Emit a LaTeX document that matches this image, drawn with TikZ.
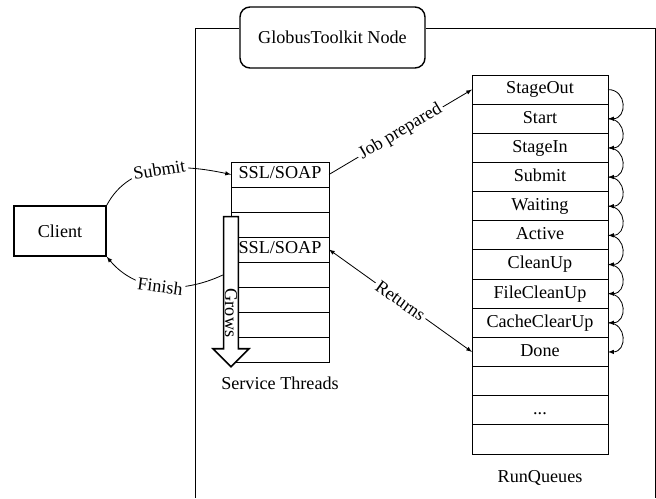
\documentclass[tikz,border=0pt]{standalone}
\usepackage{fontspec}
\setmainfont{Liberation Serif}
\usetikzlibrary{shapes.arrows}
\newcommand\qdots{...}

\begin{document}
\begin{tikzpicture}[x=0.03cm, y=0.03cm,
    every node/.style={font=\fontsize{15.5}{18}\selectfont},
    row/.style={draw, line width=0.7pt, inner sep=0pt, outer sep=0pt, text height=11pt, text depth=3.5pt},
    trow/.style={row, minimum width=2.94cm, minimum height=0.75cm},
    qrow/.style={row, minimum width=4.08cm, minimum height=0.8745cm},
    box/.style={draw, line width=1.2pt, inner sep=0pt},
    lbl/.style={fill=white, sloped, inner sep=2pt},
    conn/.style={line width=0.7pt}]

  \useasboundingbox (0,0) rectangle (656,498);

  % GlobusToolkit node frame
  \node[box, rounded corners=0.3cm, minimum width=5.55cm, minimum height=1.83cm] (globus) at (332.5,460.5) {GlobusToolkit Node};
  \coordinate (frTL) at (195,470);
  \coordinate (frTR) at (655,470);
  \coordinate (frBL) at (195,0);
  \coordinate (frBR) at (655,0);
  \draw[conn] (globus.west |- frTL) -- (frTL) -- (frBL);
  \draw[conn] (globus.east |- frTR) -- (frTR) -- (frBR);

  % Client
  \node[box, minimum width=2.76cm, minimum height=1.5cm] (client) at (60,267) {Client};

  % Service threads (8 rows)
  \foreach \lab [count=\i] in {SSL/SOAP,{},{},SSL/SOAP,{},{},{},{}} {
    \node[trow] (T\i) at (280, {323.5-25*(\i-1)}) {\lab};
  }
  \node (tlabel) at (280,115) {Service Threads};

  % Grows arrow
  \node[single arrow, draw, line width=1.4pt, fill=white, rotate=-90,
        minimum height=4.5cm, minimum width=1.08cm, inner sep=0pt,
        single arrow head extend=0.3cm] (grows) at (231,210) {\phantom{Grows}};
  \node[rotate=-90] (growslab) at (231,185) {Grows};

  % Run queues (13 rows)
  \foreach \lab [count=\i] in {StageOut,Start,StageIn,Submit,Waiting,Active,CleanUp,FileCleanUp,CacheClearUp,Done,{},\qdots,{}} {
    \node[qrow] (Q\i) at (540, {437.575-29.15*\i}) {\lab};
  }
  \node (qlabel) at (540,20) {RunQueues};

  % State transitions
  \foreach \i in {1,...,9} {
    \pgfmathtruncatemacro{\j}{\i+1}
    \draw[conn, -latex] (Q\i.east) to[out=0, in=0, looseness=1.7] (Q\j.east);
  }

  % Connections
  \draw[conn, -latex] (client.north east) to[out=62, in=168] node[lbl] {Submit} (T1.west);
  \draw[conn, -latex] ([yshift=0.39cm]grows.south) to[out=205, in=-50] node[lbl] {Finish} (client.south east);
  \draw[conn, -latex] (T1.east) -- node[lbl] {Job prepared} (Q1.west);
  \draw[conn, latex-latex] (T4.east) -- node[lbl] {Returns} (Q10.west);

\end{tikzpicture}
\end{document}
